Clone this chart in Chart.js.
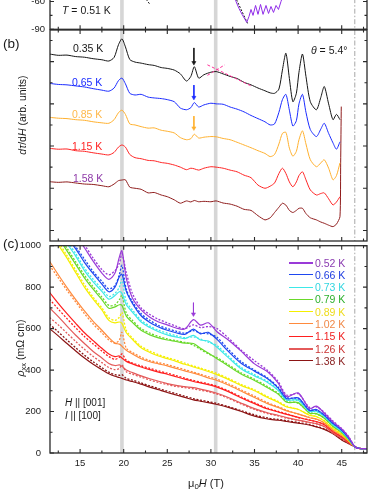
<!DOCTYPE html>
<html>
<head>
<meta charset="utf-8">
<title>Torque derivative and resistivity vs field</title>
<script src="https://cdn.jsdelivr.net/npm/chart.js@4.4.1/dist/chart.umd.min.js"></script>
<style>
  html, body { margin: 0; padding: 0; background: #fff; }
  #fig { position: relative; width: 382px; height: 494px; overflow: hidden; font-family: "Liberation Sans", Arial, sans-serif; color: #1a1a1a; }
  #fig canvas { position: absolute; left: 0; }
  .t { position: absolute; white-space: nowrap; line-height: 1; transform: translateY(-50%); }
  .rot { position: absolute; white-space: nowrap; line-height: 1; transform: translate(-50%, -50%) rotate(-90deg); }
  .mid { position: absolute; white-space: nowrap; line-height: 1; transform: translate(-50%, -50%); }
  .sub { font-size: 72%; position: relative; top: 0.3em; }
  .legline { position: absolute; left: 289px; width: 24px; height: 0; border-top-style: solid; }
</style>
</head>
<body>
<div id="fig">
  <canvas id="panelA" width="382" height="231" style="top:-191px"></canvas>
  <canvas id="panelB" width="382" height="231" style="top:20px"></canvas>
  <canvas id="panelC" width="382" height="263" style="top:231px"></canvas>

  <div class="t" style="left:62px;top:9.5px;font-size:10.5px"><i>T</i> = 0.51 K</div>

  <div class="t" style="left:3px;top:44px;font-size:13.5px">(b)</div>
  <div class="rot" style="left:22px;top:115px;font-size:10.5px"><i>d</i><i>τ</i>/d<i>H</i> (arb. units)</div>
  <div class="t" style="left:311px;top:50px;font-size:10.5px"><i>θ</i> = 5.4°</div>
  <div id="bLabels"></div>

  <div class="t" style="left:3px;top:243.5px;font-size:13.5px">(c)</div>
  <div class="rot" style="left:20px;top:348px;font-size:10.5px"><i>ρ</i><span class="sub">xx</span> (mΩ cm)</div>
  <div class="t" style="left:65px;top:403px;font-size:10px"><i>H</i> || [001]</div>
  <div class="t" style="left:65px;top:415.5px;font-size:10px"><i>I</i> || [100]</div>
  <div id="cLegend"></div>
  <div class="mid" style="left:206px;top:483px;font-size:11px">μ<span class="sub">0</span><i>H</i> (T)</div>
</div>

<script>
// ---- shared field axis ----
const fieldMin = 11.55;
const fieldMax = 47.9;
const bandFields = [19.8, 30.55];
const edgeField = 46.5;
const fieldMajor = [15, 20, 25, 30, 35, 40, 45];
const fieldMinor = [12.5, 17.5, 22.5, 27.5, 32.5, 37.5, 42.5, 47.5];

// ---- (a) bottom edge of the torque panel ----
const aMajor = [-90, -60, -30];
const aMinor = [-75, -45];
const aField = [32.65, 32.88, 33.22, 33.57, 33.91, 34.11, 34.37, 34.6, 34.83, 35.12, 35.4,
  35.69, 35.98, 36.32, 36.61, 36.89, 37.18, 37.47, 37.75, 38.04, 38.27, 38.5];
const aPurple = [-52.5, -60, -67.5, -73.9, -79.3, -82.5, -76.1, -68.6, -75, -64.3, -73.9,
  -63.2, -73.9, -64.3, -72.9, -65.4, -71.8, -64.3, -68.6, -60, -53.6, -47];
const aFitField = [32.77, 34.2];
const aFit = [-54.6, -83.6];
const aFit2Field = [22.33, 23.02];
const aFit2 = [-54.6, -63.2];

// ---- (b) dtau/dH curves ----
const bMajor = [0, 2, 4, 6, 8];
const bMinor = [1, 3, 5, 7, 9];
const bTemps = ['0.35 K', '0.65 K', '0.85 K', '1.15 K', '1.58 K'];
const bField = [11.5, 12.5, 13.5, 14.5, 15.5, 16.5, 17.5, 18.3, 18.9, 19.4,
  19.8, 20.2, 20.7, 21.3, 22, 22.8, 23.5, 24.3, 25, 25.8,
  26.5, 27.2, 27.7, 28.1, 28.6, 29.2, 30, 30.6, 31.4, 32.2,
  33, 33.8, 34.6, 35.4, 36.2, 36.8, 37.3, 37.8, 38.2, 38.6,
  39, 39.4, 39.8, 40.1, 40.5, 40.9, 41.4, 42.1, 42.6, 43,
  43.5, 44, 44.4, 44.8];
const b035 = [8.36, 8.30, 8.31, 8.24, 8.21, 8.14, 8.09, 8.03, 8.2, 8.8,
  9.08, 8.7, 8.1, 7.98, 7.93, 7.86, 7.82, 7.72, 7.68, 7.6,
  7.42, 7.08, 7.3, 7.76, 7.22, 7.38, 7.5, 7.53, 7.42, 7.3,
  7.2, 7.02, 6.9, 6.75, 6.62, 6.52, 6.5, 6.7, 7.6, 8.4,
  7.2, 6.1, 6.5, 7.5, 8.36, 7.3, 6.1, 5.72, 6.3, 6.82,
  6.0, 5.25, 5.5, 5.25];
const b065 = [6.97, 6.92, 6.9, 6.85, 6.8, 6.72, 6.65, 6.6, 6.75, 7.1,
  7.22, 6.95, 6.5, 6.42, 6.45, 6.32, 6.28, 6.25, 6.2, 6.1,
  5.8, 5.72, 5.82, 6.06, 5.85, 5.95, 6.03, 6.0, 5.98, 5.85,
  5.75, 5.62, 5.45, 5.3, 5.15, 5.0, 5.05, 5.6, 6.2, 6.45,
  5.7, 4.95, 5.2, 6.0, 6.45, 5.6, 4.78, 4.45, 4.8, 5.08,
  4.6, 4.15, 3.85, 4.2];
const b085 = [5.36, 5.32, 5.3, 5.25, 5.22, 5.15, 5.1, 5.08, 5.25, 5.58,
  5.7, 5.5, 5.05, 5.0, 4.92, 4.85, 4.86, 4.75, 4.7, 4.62,
  4.4, 4.3, 4.35, 4.56, 4.38, 4.42, 4.45, 4.44, 4.36, 4.3,
  4.18, 4.05, 3.92, 3.78, 3.65, 3.5, 3.6, 4.1, 4.6, 4.65,
  3.9, 3.52, 3.75, 4.3, 4.72, 4.1, 3.35, 3.02, 3.2, 3.35,
  2.95, 2.4, 2.6, 3.2];
const b115 = [3.89, 3.85, 3.86, 3.78, 3.75, 3.68, 3.62, 3.58, 3.7, 3.95,
  4.05, 3.95, 3.6, 3.45, 3.4, 3.32, 3.3, 3.22, 3.18, 3.1,
  3.0, 2.88, 2.95, 2.92, 2.86, 2.95, 3.02, 3.0, 2.95, 2.86,
  2.78, 2.62, 2.5, 2.15, 2.0, 2.1, 2.25, 2.7, 2.95, 2.7,
  2.3, 2.07, 2.3, 2.6, 2.78, 2.4, 1.92, 1.68, 1.75, 1.78,
  1.5, 1.21, 1.35, 1.6];
const b158 = [2.31, 2.28, 2.3, 2.25, 2.2, 2.18, 2.12, 2.07, 2.2, 2.36,
  2.39, 2.4, 2.05, 2.0, 1.95, 1.78, 1.8, 1.68, 1.6, 1.45,
  1.29, 1.4, 1.35, 1.42, 1.36, 1.38, 1.36, 1.4, 1.3, 1.25,
  1.15, 1.0, 0.95, 0.7, 0.5, 0.6, 0.85, 1.1, 1.29, 1.2,
  0.95, 0.85, 0.95, 1.05, 1.05, 0.8, 0.6, 0.5, 0.4, 0.34,
  0.25, 0.18, 0.3, 0.65];
const b158TailField = [44.88, 44.95];
const b158Tail = [3.2, 5.87];
const bArrowField = 28.05;
const bArrowTop = [8.65, 6.89, 5.42];
const bArrowEnd = [7.95, 6.3, 4.85];
const kinkFieldA = [29.6, 34.6];
const kinkA = [7.85, 6.85];
const kinkFieldB = [29.6, 31.6];
const kinkB = [7.35, 7.85];

// ---- (c) resistivity, solid = up sweep, dotted = down sweep ----
const cMajor = [0, 200, 400, 600, 800, 1000];
const cMinor = [100, 300, 500, 700, 900];
const cTemps = ['0.52 K', '0.66 K', '0.73 K', '0.79 K', '0.89 K', '1.02 K', '1.15 K', '1.26 K', '1.38 K'];
const cField = [11.5, 12.5, 13.5, 14.5, 15.5, 16.5, 17.5, 18.3, 19, 19.5,
  19.8, 20.3, 21, 22, 23, 24, 25, 26, 27, 28,
  28.8, 29.7, 30.7, 32, 33.5, 35, 36.5, 37.7, 38.7, 40,
  41.3, 42.1, 43, 44, 45, 45.8, 46.5, 47, 48];
const c052Up = [1250, 1180, 1110, 1050, 990, 925, 868, 838, 868, 945,
  975, 842, 748, 690, 655, 632, 618, 603, 598, 643,
  617, 628, 585, 545, 490, 430, 392, 338, 272, 290,
  214, 226, 192, 150, 116, 77, 30, 22, 21];
const c052Down = [1270, 1200, 1130, 1065, 1005, 940, 885, 860, 880, 915,
  960, 870, 770, 700, 668, 645, 628, 612, 600, 618,
  605, 610, 600, 555, 495, 445, 398, 345, 280, 286,
  220, 222, 196, 154, 118, 79, 31, 22, 21];
const c066Up = [1160, 1105, 1040, 985, 920, 865, 815, 778, 800, 850,
  862, 780, 722, 662, 630, 608, 592, 580, 572, 598,
  575, 582, 548, 490, 432, 395, 358, 314, 262, 266,
  205, 210, 182, 142, 110, 72, 30, 22, 21];
const c066Down = [1175, 1115, 1055, 995, 935, 875, 828, 792, 808, 860,
  905, 790, 730, 672, 640, 615, 600, 588, 578, 590,
  578, 575, 558, 500, 440, 400, 362, 318, 268, 262,
  210, 206, 185, 145, 112, 74, 31, 22, 21];
const c073Up = [1130, 1070, 1010, 950, 880, 825, 780, 742, 760, 778,
  770, 715, 680, 632, 605, 585, 570, 560, 552, 567,
  545, 540, 510, 460, 405, 372, 340, 302, 255, 256,
  200, 202, 176, 135, 104, 68, 30, 22, 21];
const c073Down = [1145, 1085, 1022, 962, 892, 838, 792, 755, 770, 800,
  838, 730, 690, 640, 612, 592, 578, 566, 556, 560,
  550, 535, 518, 468, 412, 378, 345, 306, 260, 252,
  205, 199, 179, 138, 106, 69, 31, 22, 21];
const c079Up = [1100, 1040, 975, 910, 845, 790, 740, 698, 705, 715,
  712, 660, 630, 592, 570, 555, 545, 538, 530, 528,
  505, 482, 455, 420, 380, 350, 315, 285, 245, 243,
  192, 190, 168, 128, 98, 64, 30, 22, 21];
const c079Down = [1115, 1052, 988, 922, 858, 802, 752, 712, 715, 740,
  760, 675, 640, 600, 578, 562, 550, 542, 534, 520,
  500, 478, 460, 426, 386, 356, 320, 289, 250, 240,
  196, 188, 170, 130, 100, 65, 31, 22, 21];
const c089Up = [1075, 1005, 940, 870, 800, 742, 690, 640, 628, 632,
  625, 580, 548, 508, 485, 468, 455, 442, 428, 415,
  405, 393, 378, 355, 325, 300, 268, 245, 222, 211,
  182, 176, 154, 118, 90, 60, 30, 22, 21];
const c089Down = [1090, 1020, 952, 882, 812, 752, 700, 652, 640, 655,
  678, 592, 555, 515, 492, 474, 460, 448, 434, 420,
  410, 398, 384, 360, 330, 305, 272, 249, 226, 209,
  185, 174, 156, 120, 92, 61, 31, 22, 21];
const c102Up = [925, 860, 798, 740, 685, 635, 592, 556, 530, 525,
  515, 495, 478, 455, 440, 430, 420, 408, 396, 385,
  375, 362, 350, 328, 298, 268, 238, 220, 203, 189,
  170, 164, 145, 110, 84, 56, 30, 22, 21];
const c102Down = [905, 845, 785, 728, 672, 622, 580, 545, 530, 545,
  582, 505, 485, 462, 446, 436, 426, 414, 402, 390,
  380, 368, 356, 334, 304, 274, 243, 224, 206, 187,
  172, 162, 147, 112, 85, 57, 31, 22, 21];
const c115Up = [775, 722, 672, 625, 580, 542, 505, 478, 465, 468,
  458, 442, 430, 415, 402, 390, 380, 368, 356, 345,
  338, 330, 318, 296, 265, 238, 212, 198, 186, 172,
  158, 152, 136, 104, 78, 52, 30, 22, 21];
const c115Down = [742, 694, 648, 604, 562, 526, 492, 465, 452, 462,
  478, 448, 434, 420, 408, 396, 385, 373, 361, 350,
  342, 334, 322, 300, 270, 242, 216, 201, 189, 171,
  160, 150, 138, 106, 79, 53, 31, 22, 21];
const c126Up = [700, 658, 612, 568, 528, 490, 458, 432, 422, 425,
  418, 400, 388, 372, 358, 346, 335, 326, 320, 315,
  308, 300, 288, 268, 240, 214, 194, 182, 171, 159,
  148, 142, 128, 98, 72, 49, 30, 22, 21];
const c126Down = [654, 618, 578, 538, 500, 466, 436, 412, 402, 408,
  425, 392, 380, 366, 352, 340, 330, 321, 315, 310,
  303, 296, 284, 264, 236, 210, 190, 179, 168, 157,
  146, 140, 126, 96, 71, 48, 31, 22, 21];
const c138Up = [600, 565, 528, 492, 458, 428, 402, 382, 370, 364,
  360, 352, 345, 332, 318, 305, 292, 280, 268, 256,
  250, 243, 234, 220, 200, 178, 164, 158, 152, 144,
  135, 126, 114, 93, 63, 45, 30, 22, 21];
const c138Down = [622, 584, 545, 508, 472, 440, 412, 390, 378, 375,
  378, 360, 352, 338, 324, 311, 298, 286, 274, 262,
  255, 248, 239, 224, 204, 184, 169, 162, 156, 147,
  137, 128, 116, 95, 65, 46, 31, 22, 21];
const cArrowField = 28;
const cArrowTop = 725;
const cArrowEnd = 670;

// colours
const bColors = ['#151515', '#1a2bff', '#ffb02e', '#ff2323', '#8e1b1b'];
const bTextColors = ['#151515', '#1a2bff', '#ffb84a', '#ff2323', '#8e3aa8'];
const cColors = ['#9a3ad8', '#1e48f0', '#3de8e8', '#6ad92a', '#f5ef00', '#ff8a3d', '#ff1f1f', '#e45a5a', '#8c1414'];
const cTextColors = ['#8a3bb0', '#1e3ce0', '#33d6e0', '#2db02d', '#eedc1a', '#f08848', '#f02020', '#cc3333', '#8c2424'];

Chart.defaults.font.family = '"Liberation Sans", Arial, sans-serif';
Chart.defaults.color = '#222';

function pairs(xs, ys) {
    return xs.map((x, i) => ({ x: x, y: ys[i] }));
}

function curve(xs, ys, color, opts) {
    opts = opts || {};
    return {
        data: pairs(xs, ys),
        borderColor: color,
        borderWidth: opts.width || 1.1,
        borderDash: opts.dash || [],
        pointRadius: 0,
        tension: opts.tension === undefined ? 0.3 : opts.tension,
        fill: false
    };
}

function arrow(xv, top, end, color) {
    return {
        data: [{ x: xv, y: top }, { x: xv, y: end }],
        borderColor: color,
        backgroundColor: color,
        borderWidth: 0.9,
        pointRadius: [0, 2.4],
        pointBorderWidth: 0.5,
        pointStyle: 'triangle',
        pointRotation: 180,
        tension: 0
    };
}

// bands, dash-dot edge, frame and inward ticks
const framePlugin = {
    id: 'frame',
    beforeDatasetsDraw(chart) {
        const { ctx, chartArea: a, scales } = chart;
        const x = scales.x;
        ctx.save();
        ctx.fillStyle = '#d6d6d6';
        bandFields.forEach(f => {
            const px = x.getPixelForValue(f);
            ctx.fillRect(px - 1.8, a.top, 3.6, a.bottom - a.top);
        });
        const ex = x.getPixelForValue(edgeField);
        ctx.strokeStyle = '#a8a8a8';
        ctx.lineWidth = 1;
        ctx.setLineDash([5, 2, 1.5, 2]);
        ctx.beginPath();
        ctx.moveTo(ex, a.top);
        ctx.lineTo(ex, a.bottom);
        ctx.stroke();
        ctx.restore();
    },
    afterDatasetsDraw(chart, args, opts) {
        const { ctx, chartArea: a, scales } = chart;
        const x = scales.x, y = scales.y;
        ctx.save();
        ctx.strokeStyle = '#2a2a2a';
        ctx.lineWidth = 1.1;
        ctx.beginPath();
        const xTick = (v, len) => {
            const px = x.getPixelForValue(v);
            ctx.moveTo(px, a.top); ctx.lineTo(px, a.top + len);
            ctx.moveTo(px, a.bottom); ctx.lineTo(px, a.bottom - len);
        };
        const yTick = (v, len) => {
            const py = y.getPixelForValue(v);
            if (py < a.top - 0.5 || py > a.bottom + 0.5) return;
            ctx.moveTo(a.left, py); ctx.lineTo(a.left + len, py);
            ctx.moveTo(a.right, py); ctx.lineTo(a.right - len, py);
        };
        fieldMajor.forEach(v => xTick(v, 4));
        fieldMinor.forEach(v => xTick(v, 2.5));
        opts.yMajor.forEach(v => yTick(v, 4));
        opts.yMinor.forEach(v => yTick(v, 2.5));
        ctx.stroke();
        ctx.lineWidth = 1.3;
        ctx.strokeRect(a.left, a.top, a.right - a.left, a.bottom - a.top);
        ctx.restore();
    }
};

function fieldScale(showLabels) {
    if (!showLabels) {
        return { type: 'linear', min: fieldMin, max: fieldMax, display: false };
    }
    return {
        type: 'linear', min: fieldMin, max: fieldMax,
        grid: { display: false, drawTicks: false },
        border: { display: false },
        ticks: {
            stepSize: 5, includeBounds: false, autoSkip: false, maxRotation: 0,
            padding: 5, font: { size: 9.5 }, color: '#222',
            callback: v => String(v)
        },
        afterFit: s => { s.height = 41; }
    };
}

function panelOptions(cfg) {
    return {
        responsive: false,
        animation: false,
        events: [],
        layout: { padding: { top: cfg.padTop, bottom: cfg.padBottom, left: 0, right: 15 } },
        plugins: {
            legend: { display: false },
            tooltip: { enabled: false },
            frame: cfg.frame
        },
        scales: { x: cfg.x, y: cfg.y }
    };
}

// ---- (a) ----
new Chart(document.getElementById('panelA'), {
    type: 'line',
    data: {
        datasets: [
            curve(aField, aPurple, '#8f2be8', { tension: 0, width: 1 }),
            curve(aFitField, aFit, '#111', { dash: [2, 1.5], tension: 0, width: 1 }),
            curve(aFit2Field, aFit2, '#111', { dash: [2, 1.5], tension: 0, width: 1 })
        ]
    },
    plugins: [framePlugin],
    options: panelOptions({
        padTop: 10, padBottom: 10,
        x: fieldScale(false),
        y: {
            type: 'linear', min: -90, max: -90 + 30 * 211 / 28,
            grid: { display: false, drawTicks: false },
            border: { display: false },
            ticks: { stepSize: 30, includeBounds: false, padding: 5, font: { size: 9.5 }, color: '#222' },
            afterFit: s => { s.width = 50; }
        },
        frame: { yMajor: aMajor, yMinor: aMinor }
    })
});

// ---- (b) ----
const bSeries = [b035, b065, b085, b115];
const bDatasets = bSeries.map((vals, i) => curve(bField, vals, bColors[i], { tension: 0.25, width: 1 }));
bDatasets.push(curve(bField.concat(b158TailField), b158.concat(b158Tail), bColors[4], { tension: 0.2, width: 1 }));
bArrowTop.forEach((top, i) => bDatasets.unshift(arrow(bArrowField, top, bArrowEnd[i], bColors[i])));
bDatasets.unshift(curve(kinkFieldA, kinkA, '#ff3399', { dash: [3, 2], tension: 0, width: 1 }));
bDatasets.unshift(curve(kinkFieldB, kinkB, '#ff3399', { dash: [3, 2], tension: 0, width: 1 }));

new Chart(document.getElementById('panelB'), {
    type: 'line',
    data: { datasets: bDatasets },
    plugins: [framePlugin],
    options: panelOptions({
        padTop: 10, padBottom: 10,
        x: fieldScale(false),
        y: {
            type: 'linear', min: -0.5, max: 9.5,
            grid: { display: false, drawTicks: false },
            border: { display: false },
            ticks: { display: false },
            afterFit: s => { s.width = 50; }
        },
        frame: { yMajor: bMajor, yMinor: bMinor }
    })
});

// ---- (c) ----
const cUp = [c052Up, c066Up, c073Up, c079Up, c089Up, c102Up, c115Up, c126Up, c138Up];
const cDown = [c052Down, c066Down, c073Down, c079Down, c089Down, c102Down, c115Down, c126Down, c138Down];
const cDatasets = [arrow(cArrowField, cArrowTop, cArrowEnd, '#9a3ad8')];
cUp.forEach((vals, i) => {
    cDatasets.push(curve(cField, vals, cColors[i], { width: 1.2 }));
    cDatasets.push(curve(cField, cDown[i], cColors[i], { width: 1.3, dash: [2, 1.6] }));
});

new Chart(document.getElementById('panelC'), {
    type: 'line',
    data: { datasets: cDatasets },
    plugins: [framePlugin],
    options: panelOptions({
        padTop: 10, padBottom: 0,
        x: fieldScale(true),
        y: {
            type: 'linear', min: 0, max: 1000,
            grid: { display: false, drawTicks: false },
            border: { display: false },
            ticks: { stepSize: 200, padding: 9, font: { size: 9.5 }, color: '#222', callback: v => String(v) },
            afterFit: s => { s.width = 50; }
        },
        frame: { yMajor: cMajor, yMinor: cMinor }
    })
});

// ---- text labels for (b) and legend for (c) ----
const bLabelTops = [47.5, 82, 114, 145.5, 178];
const bLabelLefts = [73, 72, 72, 72, 73];
const bLabels = document.getElementById('bLabels');
bTemps.forEach((name, i) => {
    const el = document.createElement('div');
    el.className = 't';
    el.style.cssText = `left:${bLabelLefts[i]}px;top:${bLabelTops[i]}px;font-size:10.5px;color:${bTextColors[i]}`;
    el.textContent = name;
    bLabels.appendChild(el);
});

const cLegend = document.getElementById('cLegend');
cTemps.forEach((name, i) => {
    const cy = 262.5 + 12.3 * i;
    const thick = (i === 0 || i === 7) ? 2 : 1.2;
    const line = document.createElement('div');
    line.className = 'legline';
    line.style.cssText = `top:${cy - thick / 2}px;border-top-width:${thick}px;border-top-color:${cColors[i]}`;
    cLegend.appendChild(line);
    const txt = document.createElement('div');
    txt.className = 't';
    txt.style.cssText = `left:315px;top:${cy}px;font-size:10.5px;color:${cTextColors[i]}`;
    txt.textContent = name;
    cLegend.appendChild(txt);
});
</script>
</body>
</html>
